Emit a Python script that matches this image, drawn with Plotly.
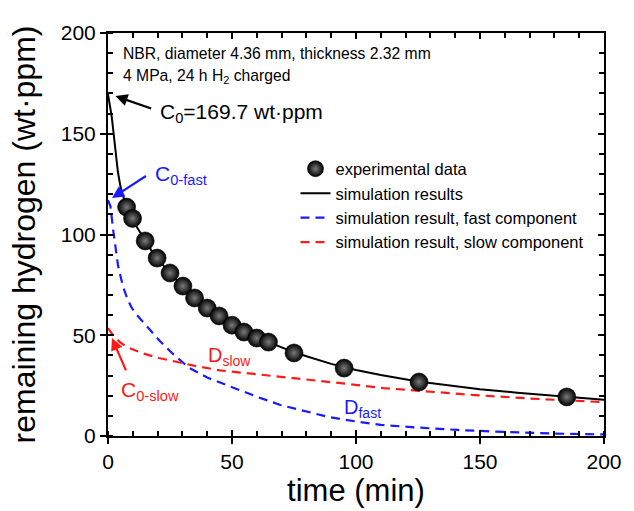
import plotly.graph_objects as go

# ---- data ----
t_exp = [7.5, 9.9, 15.0, 19.8, 25.0, 30.2, 34.9, 40.0, 44.8, 50.0, 54.8, 60.0, 64.7, 75.0, 95.2, 125.4, 185.0]
c_exp = [113.6, 108.0, 96.8, 88.3, 80.9, 74.4, 68.5, 63.5, 59.6, 55.0, 51.6, 48.6, 46.6, 41.2, 33.7, 26.8, 19.4]

t_total = [0, 0.5, 1, 1.5, 2, 3, 4, 5, 6.7, 8.7, 10, 13, 15, 17.3, 20, 25, 30, 35, 40, 45, 50, 55, 60, 65,
           70, 75, 80, 90, 100, 110, 125, 140, 150, 165, 180, 190, 200]
c_total = [169.7, 166.5, 163.0, 158.5, 153.0, 141.0, 131.0, 124.0, 116.5, 110.5, 107.0, 101.0, 97.0, 92.5,
           88.0, 80.7, 74.5, 69.0, 64.2, 60.0, 56.0, 52.5, 49.3, 46.5, 44.0, 41.6, 39.6, 35.8, 32.8, 30.3,
           27.0, 24.6, 23.2, 21.5, 20.0, 19.0, 18.0]

t_fast = [0, 1, 2, 3, 4, 5, 6.1, 8, 9.4, 11, 13.4, 17.3, 21, 25.8, 32.5, 40, 49.7, 60, 69.5, 80, 89, 100,
          110, 125, 141, 160, 180, 200]
c_fast = [117.0, 114.0, 103.0, 93.0, 85.0, 79.5, 74.0, 67.5, 64.0, 61.0, 57.6, 52.6, 47.0, 41.2, 34.0, 29.0,
          24.3, 19.5, 15.4, 12.0, 9.4, 7.2, 5.5, 4.2, 3.0, 2.0, 1.2, 0.8]

t_slow = [0, 1, 2, 3.5, 5.4, 8.7, 14, 20.6, 27, 35, 45, 56, 70, 83, 97, 111, 130, 148, 170, 185, 200]
c_slow = [53.5, 51.5, 50.0, 48.0, 46.0, 43.6, 41.0, 38.7, 36.9, 34.8, 32.6, 31.2, 29.4, 27.8, 25.8, 23.8,
          22.0, 20.3, 18.6, 17.6, 16.8]

legend_names = ["experimental data", "simulation results",
                "simulation result, fast component", "simulation result, slow component"]

FONT = "Liberation Sans, Arial, sans-serif"
BLUE = "#1a1aff"
RED = "#ff1a1a"

fig = go.Figure()
fig.add_trace(go.Scatter(x=t_fast, y=c_fast, mode="lines", name=legend_names[2], legendrank=3,
                         line=dict(color=BLUE, width=2.2, dash="9px,6px")))
fig.add_trace(go.Scatter(x=t_slow, y=c_slow, mode="lines", name=legend_names[3], legendrank=4,
                         line=dict(color=RED, width=2.2, dash="9px,6px")))
fig.add_trace(go.Scatter(x=t_total, y=c_total, mode="lines", name=legend_names[1], legendrank=2,
                         line=dict(color="black", width=2)))
fig.add_trace(go.Scatter(x=t_exp, y=c_exp, mode="markers", name=legend_names[0], legendrank=1,
                         marker=dict(size=18, color="black", line=dict(width=0.6, color="black"),
                                     gradient=dict(type="radial", color="#7a7a7a"))))
# empty helper traces so the overlay axes (tick decorations) get drawn
fig.add_trace(go.Scatter(x=[], y=[], xaxis="x2", yaxis="y2", showlegend=False, hoverinfo="skip"))
fig.add_trace(go.Scatter(x=[], y=[], xaxis="x3", yaxis="y3", showlegend=False, hoverinfo="skip"))

common = dict(range=[0, 200], showgrid=False, zeroline=False)
ycommon = dict(range=[0, 200], showgrid=False, zeroline=False)

fig.update_layout(
    width=634, height=511,
    margin=dict(l=108, r=22, t=33, b=75),
    paper_bgcolor="white", plot_bgcolor="white",
    font=dict(family=FONT, color="black"),
    xaxis=dict(**common, dtick=50, ticks="outside", ticklen=6, tickwidth=1.5, tickcolor="black",
               showline=True, linewidth=2, linecolor="black",
               tickfont=dict(size=21),
               minor=dict(dtick=10, ticks="inside", ticklen=5, tickwidth=1.5, tickcolor="black"),
               title=dict(text="time (min)", font=dict(size=31), standoff=3)),
    yaxis=dict(**ycommon, dtick=50, ticks="outside", ticklen=6, tickwidth=1.5, tickcolor="black",
               showline=True, linewidth=2, linecolor="black",
               tickfont=dict(size=21),
               minor=dict(dtick=10, ticks="inside", ticklen=5, tickwidth=1.5, tickcolor="black"),
               title=dict(text="remaining hydrogen (wt·ppm)", font=dict(size=32), standoff=16)),
    xaxis2=dict(**common, overlaying="x", anchor="y2", side="bottom", dtick=50, ticks="inside",
                ticklen=6, tickwidth=1.5, tickcolor="black", showticklabels=False, showline=False),
    yaxis2=dict(**ycommon, overlaying="y", anchor="x2", side="left", dtick=50, ticks="inside",
                ticklen=6, tickwidth=1.5, tickcolor="black", showticklabels=False, showline=False),
    xaxis3=dict(**common, overlaying="x", anchor="y3", side="top", dtick=50, ticks="inside",
                ticklen=6, tickwidth=1.5, tickcolor="black", showticklabels=False,
                showline=True, linewidth=2, linecolor="black",
                minor=dict(dtick=10, ticks="inside", ticklen=5, tickwidth=1.5, tickcolor="black")),
    yaxis3=dict(**ycommon, overlaying="y", anchor="x3", side="right", dtick=50, ticks="inside",
                ticklen=6, tickwidth=1.5, tickcolor="black", showticklabels=False,
                showline=True, linewidth=2, linecolor="black",
                minor=dict(dtick=10, ticks="inside", ticklen=5, tickwidth=1.5, tickcolor="black")),
    legend=dict(x=0.378, y=0.706, xanchor="left", yanchor="top", bgcolor="rgba(0,0,0,0)",
                font=dict(size=16.5, color="black"), tracegroupgap=0),
    showlegend=True,
)

def text_ann(x, y, text, size, color):
    fig.add_annotation(x=x, y=y, xref="x", yref="y", text=text, showarrow=False,
                       xanchor="left", yanchor="middle", align="left",
                       font=dict(size=size, color=color, family=FONT))

def arrow_ann(x_head, y_head, x_tail, y_tail, color):
    fig.add_annotation(x=x_head, y=y_head, ax=x_tail, ay=y_tail, xref="x", yref="y",
                       axref="x", ayref="y", text="", showarrow=True,
                       arrowhead=2, arrowsize=1.1, arrowwidth=2.2, arrowcolor=color)

text_ann(5.2, 190.0, "NBR, diameter 4.36 mm, thickness 2.32 mm", 15.7, "black")
text_ann(5.2, 178.5, "4 MPa, 24 h H<sub>2</sub> charged", 15.7, "black")
text_ann(20.2, 160.5, "C<sub>0</sub>=169.7 wt·ppm", 21, "black")
text_ann(18.3, 129.5, "C<sub>0-fast</sub>", 21, BLUE)
text_ann(4.4, 22.5, "C<sub>0-slow</sub>", 21, RED)
text_ann(39.4, 39.5, "D<sub>slow</sub>", 20, RED)
text_ann(94.5, 13.8, "D<sub>fast</sub>", 20, BLUE)

arrow_ann(3.0, 168.7, 18.0, 162.3, "black")
arrow_ann(1.6, 118.1, 15.9, 129.5, BLUE)
arrow_ann(1.6, 48.6, 7.5, 31.8, RED)

fig.write_html("out.html")
